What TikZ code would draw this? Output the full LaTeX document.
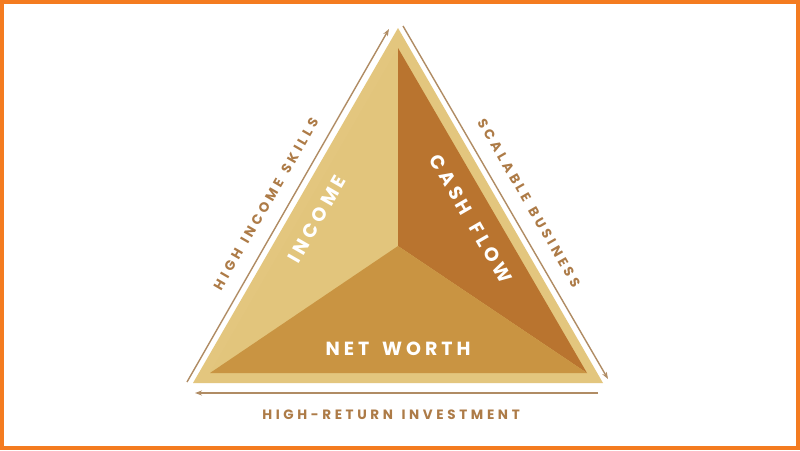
\documentclass[tikz,border=0pt]{standalone}
\usepackage{fontspec}
\setmainfont{Poppins}
\newfontfamily\widefont[LetterSpace=21,WordSpace=1.6]{Poppins}
\newfontfamily\labfont[LetterSpace=27,WordSpace=1.3]{Poppins}
\usetikzlibrary{arrows.meta}
\definecolor{frameorange}{HTML}{F47B20}
\definecolor{rimgold}{HTML}{E3C67E}
\definecolor{incomegold}{HTML}{E2C57C}
\definecolor{cashbrown}{HTML}{B9742F}
\definecolor{worthgold}{HTML}{C99442}
\definecolor{arrowtan}{HTML}{B08C64}
\definecolor{labelbrown}{HTML}{AD7B47}
\tikzset{
  sidearrow/.style={draw=arrowtan, line width=1.4pt, -{Stealth[length=7pt,width=5pt]}},
  sidelabel/.style={text=labelbrown, font=\labfont\bfseries\fontsize{13.5}{13.5}\selectfont, inner sep=0},
  partlabel/.style={text=white, font=\widefont\bfseries\fontsize{19}{19}\selectfont, inner sep=0},
}
\begin{document}
\begin{tikzpicture}[x=1pt,y=-1pt]
\useasboundingbox (0,0) rectangle (800,450);
\fill[white] (0,0) rectangle (800,450);
\draw[frameorange, line width=4pt] (2,2) rectangle (798,448);
% outer rim triangle
\coordinate (OA) at (398,28);
\coordinate (OL) at (193,383);
\coordinate (OR) at (603,383);
\fill[rimgold] (OA) -- (OL) -- (OR) -- cycle;
% inner triangle
\coordinate (IA) at (398,48);
\coordinate (IL) at (210,373);
\coordinate (IR) at (587,373);
\coordinate (C) at (398,246);
\fill[incomegold] (IA) -- (C) -- (IL) -- cycle;
\fill[cashbrown] (IA) -- (IR) -- (C) -- cycle;
\fill[worthgold] (IL) -- (C) -- (IR) -- cycle;
% arrows
\coordinate (LA0) at (187,382);
\coordinate (LA1) at (389,29);
\coordinate (RA0) at (403,26);
\coordinate (RA1) at (608,379);
\coordinate (BA0) at (598,393);
\coordinate (BA1) at (195,393);
\draw[sidearrow] (LA0) -- (LA1);
\draw[sidearrow] (RA0) -- (RA1);
\draw[sidearrow] (BA0) -- (BA1);
% labels
\node[sidelabel, rotate=60] (skills) at (266,204) {HIGH INCOME SKILLS};
\node[sidelabel, rotate=-60] (business) at (529,203) {SCALABLE BUSINESS};
\node[sidelabel] (invest) at (391,415) {HIGH-RETURN INVESTMENT};
\node[partlabel, rotate=60] (income) at (317,219) {INCOME};
\node[partlabel, rotate=-60] (cash) at (471,219) {CASH FLOW};
\node[partlabel] (worth) at (398,349) {NET WORTH};
\end{tikzpicture}
\end{document}
